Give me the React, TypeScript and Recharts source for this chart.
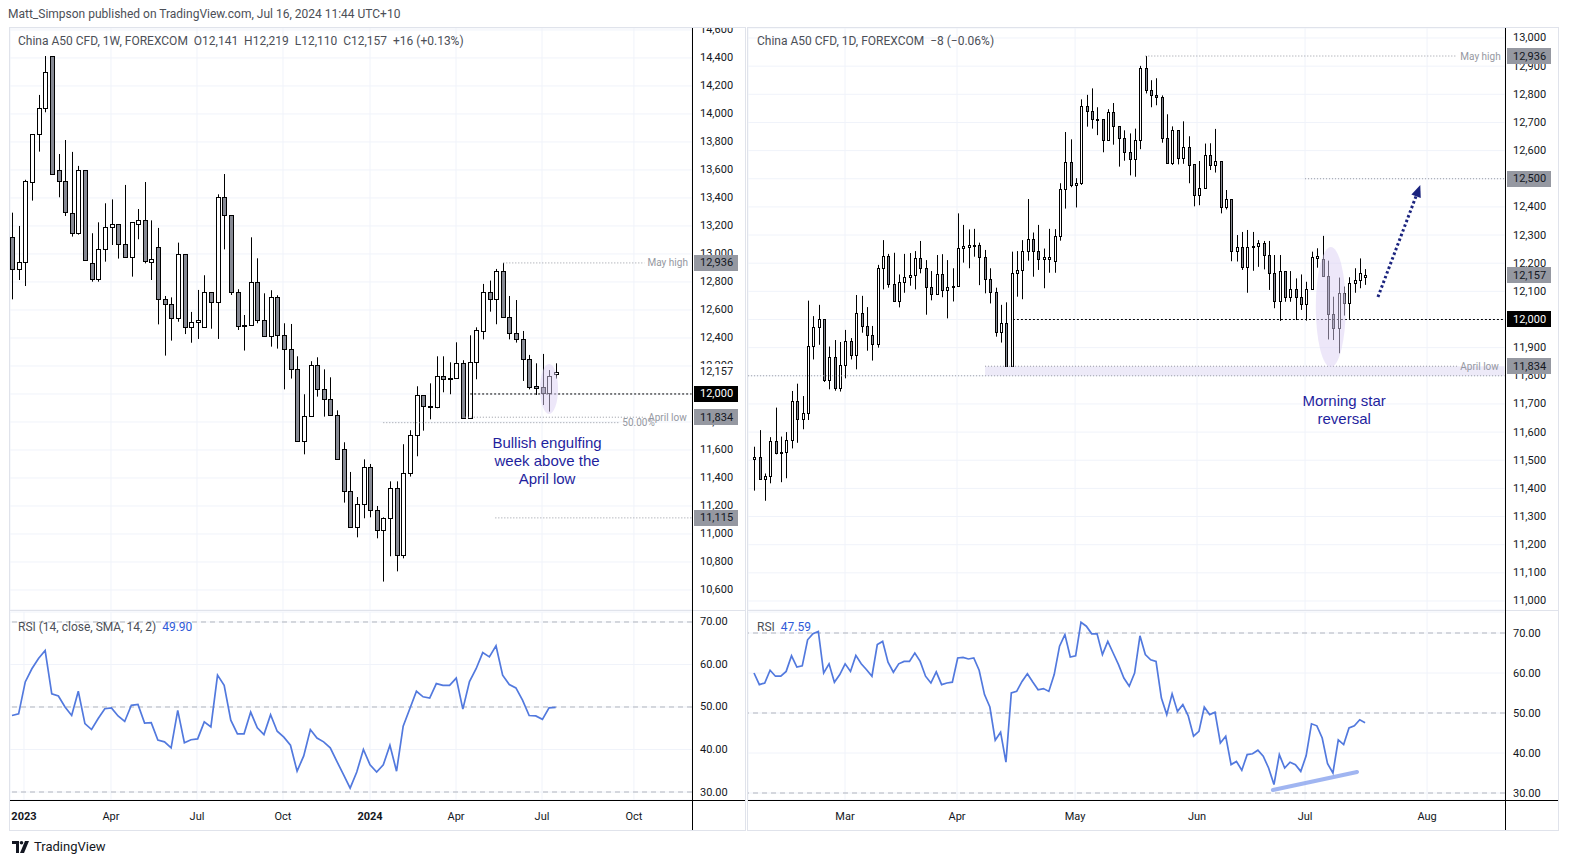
import React from 'react';
import {
  ComposedChart,
  LineChart,
  Bar,
  Line,
  XAxis,
  YAxis,
  CartesianGrid,
  ReferenceLine,
  ReferenceDot,
  ReferenceArea,
} from 'recharts';

const FONT = 'Roboto, "Liberation Sans", Arial, sans-serif';
const TEXT = '#131722';
const MUTED = '#9598a1';
const BEAR = '#868993';
const GRID = '#f0f3fa';
const FRAME = '#e0e3eb';
const RSI_BLUE = '#5279de';
const NOTE = '#1f1f9e';
const NAVY = '#1a237e';

// ---- weekly candles (1W), Dec 2022 -> Jul 2024 ----
const weekOpen = [
  13124, 12890, 12940, 13517, 13855, 14040, 14414, 13598, 13521, 13290,
  13148, 13598, 12933, 12819, 13033, 13195, 13212, 13069, 12981, 13212,
  13240, 12945, 13048, 12676, 12640, 12540, 12998, 12476, 12512, 12481,
  12726, 12655, 13405, 13276, 12726, 12491, 12491, 12798, 12526, 12412,
  12691, 12419, 12319, 12176, 11662, 11841, 12205, 12033, 11962, 11848,
  11605, 11305, 11048, 11212, 11476, 11171, 11029, 11112, 11326, 10848,
  11433, 11705, 11991, 11912, 11905, 12126, 12112, 12112, 12219, 11826,
  12231, 12450, 12726, 12676, 12881, 12548, 12433, 12390, 12248, 12057,
  12050, 12005, 12141,
];
const weekHigh = [
  13295, 13200, 13530, 13855, 14136, 14414, 14414, 13714, 13814, 13729,
  13629, 13598, 13148, 13226, 13362, 13390, 13212, 13493, 13226, 13321,
  13514, 13240, 13186, 12700, 12690, 13081, 12998, 12586, 12743, 12848,
  12726, 13426, 13571, 13276, 12748, 12564, 13119, 12969, 12719, 12741,
  12705, 12505, 12500, 12269, 11998, 12234, 12262, 12176, 12119, 11883,
  11655, 11443, 11264, 11533, 11500, 11200, 11119, 11376, 11376, 11641,
  11741, 12055, 11991, 12076, 12269, 12269, 12226, 12369, 12241, 12419,
  12476, 12786, 12810, 12893, 12936, 12700, 12671, 12450, 12279, 12219,
  12286, 12171, 12219,
];
const weekLow = [
  12676, 12814, 12771, 13381, 13731, 14012, 13569, 13405, 13271, 13124,
  13138, 12957, 12802, 12802, 12945, 13064, 12967, 12981, 12838, 13105,
  12933, 12814, 12497, 12274, 12381, 12516, 12428, 12366, 12393, 12474,
  12466, 12393, 13033, 12707, 12457, 12310, 12491, 12505, 12412, 12338,
  12324, 12033, 12110, 11662, 11569, 11841, 11981, 11838, 11848, 11533,
  11224, 11048, 10976, 11112, 11119, 10969, 10660, 10841, 10733, 10826,
  11410, 11555, 11738, 11819, 11898, 12012, 11998, 12112, 11826, 11826,
  12105, 12390, 12588, 12498, 12548, 12390, 12367, 12093, 12033, 11993,
  11921, 11874, 12110,
];
const weekClose = [
  12890, 12940, 13521, 13855, 14040, 14298, 13569, 13521, 13302, 13148,
  13598, 12957, 12819, 13033, 13195, 13212, 13069, 12981, 13226, 13240,
  12950, 12962, 12676, 12640, 12540, 12998, 12476, 12512, 12526, 12726,
  12655, 13405, 13276, 12726, 12486, 12495, 12798, 12526, 12412, 12691,
  12419, 12319, 12176, 11662, 11841, 12205, 12033, 11962, 11848, 11533,
  11305, 11048, 11212, 11476, 11171, 11029, 11112, 11326, 10848, 11433,
  11705, 11991, 11912, 11905, 12126, 12105, 12115, 12219, 11826, 12231,
  12457, 12726, 12676, 12881, 12548, 12433, 12390, 12248, 12052, 12040,
  12010, 12129, 12157,
];
const weekRsi = [
  48, 48.4, 55.9, 59, 61.4, 63.3, 53.1, 52.6, 50, 48,
  53.7, 46.1, 44.7, 47.3, 49.6, 49.8, 47.9, 46.6, 50.4, 50.6,
  46.2, 46.3, 42.2, 41.8, 40.4, 49.2, 41.6, 42.3, 42.5, 46.5,
  45.3, 57.5, 55.1, 46.9, 43.7, 43.7, 48.8, 45.1, 43.5, 48.2,
  44.3, 42.9, 41, 34.9, 38.5, 44.7, 42.7, 41.8, 40.4, 37.2,
  34.1, 30.9, 34.7, 40, 36.4, 34.7, 36.4, 41, 34.9, 45.5,
  49.6, 53.7, 52.4, 52.1, 55.5, 55.1, 55.1, 56.8, 49.5, 56,
  59, 62.8, 61.8, 64.4, 57.5, 55.3, 54.5, 51.6, 48, 47.9,
  47.1, 49.8, 49.9,
];
const weekTickPos = [1.81, 14.93, 27.9, 40.87, 54, 66.97, 79.94, 93.8];
const weekTickLabels = ['2023', 'Apr', 'Jul', 'Oct', '2024', 'Apr', 'Jul', 'Oct'];
const weekPriceTicks = [
  10600, 10800, 11000, 11200, 11400, 11600, 11800, 12000, 12200, 12400,
  12600, 12800, 13000, 13200, 13400, 13600, 13800, 14000, 14200, 14400, 14600,
];

// ---- daily candles (1D), Feb -> Jul 2024 ----
const dayOpen = [
  11503, 11512, 11432, 11444, 11568, 11527, 11528, 11572, 11711, 11645,
  11667, 11906, 11973, 12001, 11785, 11867, 11756, 11838, 11924, 11873,
  12022, 11977, 11944, 11912, 12182, 12224, 12125, 12064, 12132, 12150,
  12157, 12217, 12182, 12117, 12089, 12160, 12105, 12118, 12118, 12253,
  12258, 12260, 12264, 12223, 12143, 12099, 11957, 11989, 11835, 12164,
  12176, 12243, 12285, 12243, 12214, 12214, 12209, 12297, 12462, 12558,
  12477, 12484, 12757, 12740, 12711, 12711, 12636, 12736, 12686, 12644,
  12594, 12569, 12636, 12892, 12814, 12796, 12789, 12644, 12555, 12672,
  12573, 12614, 12552, 12441, 12466, 12583, 12548, 12562, 12398, 12427,
  12242, 12256, 12188, 12256, 12262, 12270, 12229, 12166, 12066, 12172,
  12081, 12107, 12081, 12054, 12107, 12220, 12216, 12154, 12018, 11969,
  12093, 12060, 12128, 12140, 12150,
];
const dayHigh = [
  11548, 11607, 11453, 11582, 11687, 11584, 11600, 11746, 11772, 11728,
  12067, 12012, 12052, 12001, 11904, 11927, 11920, 11963, 11934, 12087,
  12084, 12044, 11977, 12194, 12282, 12233, 12237, 12160, 12233, 12236,
  12243, 12279, 12211, 12172, 12229, 12232, 12211, 12182, 12377, 12336,
  12320, 12322, 12273, 12247, 12182, 12113, 12052, 12061, 12241, 12243,
  12282, 12428, 12309, 12336, 12252, 12322, 12321, 12484, 12666, 12640,
  12502, 12782, 12798, 12821, 12754, 12711, 12747, 12769, 12686, 12672,
  12661, 12678, 12901, 12936, 12850, 12857, 12796, 12729, 12686, 12672,
  12704, 12651, 12552, 12563, 12625, 12626, 12677, 12562, 12460, 12427,
  12300, 12311, 12318, 12311, 12282, 12279, 12279, 12229, 12229, 12172,
  12172, 12146, 12160, 12134, 12241, 12253, 12297, 12209, 12081, 12149,
  12117, 12150, 12182, 12217, 12179,
];
const dayLow = [
  11392, 11432, 11356, 11418, 11521, 11422, 11436, 11542, 11562, 11610,
  11643, 11858, 11910, 11778, 11752, 11747, 11744, 11791, 11858, 11823,
  11953, 11889, 11854, 11900, 12107, 12113, 12064, 12043, 12095, 12120,
  12107, 12164, 12017, 12068, 12087, 12079, 12004, 12064, 12118, 12202,
  12182, 12223, 12122, 12093, 12057, 11939, 11918, 11835, 11835, 12081,
  12072, 12209, 12152, 12176, 12111, 12166, 12166, 12280, 12394, 12470,
  12398, 12478, 12685, 12678, 12655, 12594, 12636, 12621, 12543, 12564,
  12512, 12507, 12605, 12803, 12754, 12761, 12628, 12555, 12549, 12551,
  12553, 12484, 12402, 12406, 12466, 12531, 12522, 12377, 12391, 12207,
  12206, 12176, 12095, 12173, 12187, 12178, 12105, 12040, 11995, 12063,
  12063, 11998, 12034, 11996, 12107, 12184, 12154, 11929, 11927, 11880,
  12014, 12002, 12095, 12111, 12123,
];
const dayClose = [
  11512, 11432, 11444, 11568, 11527, 11530, 11572, 11711, 11645, 11667,
  11906, 11973, 12001, 11785, 11867, 11756, 11838, 11924, 11873, 12022,
  11977, 11944, 11912, 12182, 12224, 12125, 12064, 12132, 12150, 12157,
  12217, 12182, 12117, 12089, 12160, 12105, 12114, 12120, 12253, 12261,
  12263, 12265, 12223, 12143, 12099, 11957, 11989, 11835, 12164, 12176,
  12243, 12285, 12243, 12214, 12222, 12222, 12297, 12462, 12558, 12477,
  12484, 12757, 12740, 12711, 12713, 12636, 12736, 12686, 12644, 12594,
  12569, 12636, 12892, 12814, 12796, 12789, 12644, 12555, 12672, 12573,
  12614, 12549, 12441, 12466, 12583, 12548, 12562, 12398, 12427, 12242,
  12256, 12188, 12256, 12262, 12270, 12229, 12166, 12066, 12172, 12081,
  12107, 12081, 12054, 12107, 12223, 12226, 12154, 12018, 11969, 12093,
  12060, 12128, 12140, 12165, 12157,
];
const dayRsi = [
  60, 57.1, 57.5, 60.7, 59.2, 59.2, 60.4, 64.3, 61.5, 61.8,
  68.3, 69.8, 70.4, 60, 62.3, 57.7, 59.6, 62.3, 60.4, 64.4,
  62.3, 60.8, 59.2, 67.1, 67.9, 62.7, 60.2, 62.3, 62.9, 62.9,
  65, 62.9, 59.2, 57.5, 60.3, 57.1, 57.5, 57.7, 63.75, 63.9,
  63.5, 63.75, 60.7, 54.6, 51.5, 43.2, 45.2, 37.7, 55, 55.4,
  57.9, 59.8, 57.75, 55.8, 56.1, 55.4, 59.6, 66.7, 69.6, 64,
  64.3, 72.7, 71.7, 69.8, 69.8, 64.6, 67.9, 65, 62.1, 58.75,
  56.7, 60, 69.3, 64.6, 63.3, 62.9, 53.75, 49.6, 54.8, 50.4,
  52.1, 49.3, 44.2, 45.4, 51.5, 49.6, 50.2, 42.5, 44.2, 37.1,
  37.9, 35.7, 39.6, 39.8, 40.7, 39.2, 36.25, 32.1, 39.6, 36.25,
  37.7, 37.1, 35.4, 39.3, 47.3, 46.8, 43.75, 37.3, 35, 43.3,
  42.1, 46.25, 46.8, 48.3, 47.59,
];
const dayTickPos = [16.98, 37.87, 59.9, 82.65, 102.8, 125.56];
const dayTickLabels = ['Mar', 'Apr', 'May', 'Jun', 'Jul', 'Aug'];
const dayPriceTicks = [
  11000, 11100, 11200, 11300, 11400, 11500, 11600, 11700, 11800, 11900, 12000,
  12100, 12200, 12300, 12400, 12500, 12600, 12700, 12800, 12900, 13000,
];
const rsiTicks = [30, 40, 50, 60, 70];

const weekRows = weekOpen.map((o, i) => ({
  i,
  o,
  h: weekHigh[i],
  l: weekLow[i],
  c: weekClose[i],
  range: [weekLow[i], weekHigh[i]],
}));
const dayRows = dayOpen.map((o, i) => ({
  i,
  o,
  h: dayHigh[i],
  l: dayLow[i],
  c: dayClose[i],
  range: [dayLow[i], dayHigh[i]],
}));
const weekRsiRows = weekRsi.map((v, i) => ({ i, v }));
const dayRsiRows = dayRsi.map((v, i) => ({ i, v }));

const W_X: [number, number] = [-0.3, 102.56];
const D_X: [number, number] = [-1.12, 140.1];
const W_Y: [number, number] = [10457, 14614];
const D_Y: [number, number] = [10968, 13035.5];

const fmt = (v: number) => v.toLocaleString('en-US');

// candle drawn inside the [low, high] bar that recharts positions for us
const candleShape = (bw: number) => (p: any) => {
  const d = p.payload;
  if (!d || p.x == null || p.height == null) return <g />;
  const top = Math.min(p.y, p.y + p.height);
  const full = Math.abs(p.height);
  const k = d.h > d.l ? full / (d.h - d.l) : 0;
  const at = (v: number) => top + (d.h - v) * k;
  const cx = Math.round(p.x + p.width / 2);
  const y1 = Math.round(at(Math.max(d.o, d.c))) + 0.5;
  let y2 = Math.round(at(Math.min(d.o, d.c))) + 0.5;
  if (y2 - y1 < 1) y2 = y1 + 1;
  return (
    <g>
      <line x1={cx + 0.5} x2={cx + 0.5} y1={top} y2={top + full} stroke="#000" />
      <rect
        x={cx - bw / 2 + 0.5}
        y={y1}
        width={bw}
        height={y2 - y1}
        fill={d.c >= d.o ? '#fff' : BEAR}
        stroke="#000"
      />
    </g>
  );
};

const badge = (text: string, bg: string, fg: string) => (p: any) => {
  const vb = p.viewBox || {};
  const x = vb.x + vb.width + 2;
  const y = vb.y + (vb.height || 0) / 2;
  return (
    <g>
      <rect x={x} y={Math.round(y) - 8} width={44} height={16} fill={bg} />
      <text x={x + 6} y={y} dominantBaseline="central" fontSize={11} fontFamily={FONT} fill={fg}>
        {text}
      </text>
    </g>
  );
};

const endTag = (text: string) => (p: any) => {
  const vb = p.viewBox || {};
  return (
    <text
      x={vb.x + vb.width + 3}
      y={vb.y}
      dominantBaseline="central"
      fontSize={10}
      fontFamily={FONT}
      fill={MUTED}
    >
      {text}
    </text>
  );
};

const priceTick = (p: any) => (
  <text x={p.x + 6} y={p.y} dominantBaseline="central" fontSize={11} fontFamily={FONT} fill={TEXT}>
    {fmt(p.payload.value)}
  </text>
);

const rsiTick = (p: any) => (
  <text x={p.x + 6} y={p.y} dominantBaseline="central" fontSize={11} fontFamily={FONT} fill={TEXT}>
    {Number(p.payload.value).toFixed(2)}
  </text>
);

const timeTick = (pos: number[], labels: string[]) => (p: any) => {
  const label = labels[pos.indexOf(p.payload.value)] ?? '';
  return (
    <text
      x={p.x}
      y={p.y + 14}
      textAnchor="middle"
      dominantBaseline="central"
      fontSize={11}
      fontFamily={FONT}
      fontWeight={/^\d{4}$/.test(label) ? 700 : 400}
      fill={TEXT}
    >
      {label}
    </text>
  );
};

const noteShape = (lines: string[]) => (p: any) => (
  <text x={p.cx} y={p.cy} textAnchor="middle" fontSize={15} fontFamily='"Liberation Sans", Arial, sans-serif' fill={NOTE}>
    {lines.map((s, k) => (
      <tspan key={k} x={p.cx} dy={k === 0 ? 5 : 18}>
        {s}
      </tspan>
    ))}
  </text>
);

const ellipseShape = (rx: number, ry: number) => (p: any) => (
  <ellipse cx={p.cx} cy={p.cy} rx={rx} ry={ry} fill="#dccff4" fillOpacity={0.5} />
);

const arrowShape = (p: any) => {
  const { x1, y1, x2, y2 } = p;
  const a = Math.atan2(y2 - y1, x2 - x1);
  const L = 12;
  const W = 5;
  const bx = x2 - L * Math.cos(a);
  const by = y2 - L * Math.sin(a);
  const pts = [
    [x2, y2],
    [bx + W * Math.sin(a), by - W * Math.cos(a)],
    [bx - W * Math.sin(a), by + W * Math.cos(a)],
  ]
    .map(q => q.join(','))
    .join(' ');
  return (
    <g>
      <line x1={x1} y1={y1} x2={bx} y2={by} stroke={NAVY} strokeWidth={3} strokeDasharray="2.5 2.5" />
      <polygon points={pts} fill={NAVY} />
    </g>
  );
};

const dotted = { stroke: MUTED, strokeDasharray: '1 2', strokeWidth: 1 };
const blackDotted = { stroke: '#000', strokeDasharray: '2 2', strokeWidth: 1 };

// price-scale labels sit in their own layer so they cover the axis ticks, like TradingView
function BadgeLayer({
  width,
  xDomain,
  yDomain,
  children,
}: {
  width: number;
  xDomain: [number, number];
  yDomain: [number, number];
  children: React.ReactNode;
}) {
  return (
    <ComposedChart width={width} height={582} data={[{ i: 0 }]} margin={{ top: 0, right: 0, bottom: 0, left: 0 }}>
      <XAxis type="number" dataKey="i" domain={xDomain} hide allowDataOverflow />
      <YAxis
        orientation="right"
        type="number"
        domain={yDomain}
        width={53}
        tick={false}
        axisLine={false}
        tickLine={false}
        allowDataOverflow
      />
      {children}
    </ComposedChart>
  );
}

function WeeklyPrice() {
  return (
    <ComposedChart width={735} height={582} data={weekRows} margin={{ top: 0, right: 0, bottom: 0, left: 0 }}>
      <CartesianGrid stroke={GRID} />
      <XAxis type="number" dataKey="i" domain={W_X} ticks={weekTickPos} hide allowDataOverflow />
      <YAxis
        orientation="right"
        type="number"
        domain={W_Y}
        ticks={weekPriceTicks}
        interval={0}
        width={53}
        axisLine={false}
        tickLine={false}
        tickSize={0}
        allowDataOverflow
        tick={priceTick}
      />
      <ReferenceDot x={81} y={12036} r={1} shape={ellipseShape(9, 25)} />
      <ReferenceLine segment={[{ x: 74.1, y: 12936 }, { x: 95.4, y: 12936 }]} {...dotted} label={endTag('May high')} />
      <ReferenceLine segment={[{ x: 56, y: 11795 }, { x: 91.6, y: 11795 }]} {...dotted} label={endTag('50.00%')} />
      <ReferenceLine segment={[{ x: 68.3, y: 11834 }, { x: 95.5, y: 11834 }]} {...dotted} label={endTag('April low')} />
      <ReferenceLine segment={[{ x: 72.9, y: 11115 }, { x: 102.5, y: 11115 }]} {...dotted} />
      <ReferenceLine segment={[{ x: 69.1, y: 12000 }, { x: 102.5, y: 12000 }]} {...blackDotted} />
      <Bar dataKey="range" barSize={5} isAnimationActive={false} shape={candleShape(4)} />
      <ReferenceDot
        x={80.7}
        y={11650}
        r={1}
        shape={noteShape(['Bullish engulfing', 'week above the', 'April low'])}
      />
    </ComposedChart>
  );
}

function WeeklyBadges() {
  return (
    <BadgeLayer width={735} xDomain={W_X} yDomain={W_Y}>
      <ReferenceLine y={12936} stroke="none" label={badge('12,936', '#9598a1', TEXT)} />
      <ReferenceLine y={12157} stroke="none" label={badge('12,157', '#ffffff', TEXT)} />
      <ReferenceLine y={12000} stroke="none" label={badge('12,000', '#000000', '#ffffff')} />
      <ReferenceLine y={11834} stroke="none" label={badge('11,834', '#9598a1', TEXT)} />
      <ReferenceLine y={11115} stroke="none" label={badge('11,115', '#9598a1', TEXT)} />
    </BadgeLayer>
  );
}

function WeeklyRsi() {
  return (
    <LineChart width={735} height={220} data={weekRsiRows} margin={{ top: 2, right: 0, bottom: 0, left: 0 }}>
      <CartesianGrid stroke={GRID} />
      <XAxis
        type="number"
        dataKey="i"
        domain={W_X}
        ticks={weekTickPos}
        interval={0}
        height={30}
        axisLine={false}
        tickLine={false}
        tickSize={0}
        allowDataOverflow
        tick={timeTick(weekTickPos, weekTickLabels)}
      />
      <YAxis
        orientation="right"
        type="number"
        domain={[28.12, 72.35]}
        ticks={rsiTicks}
        interval={0}
        width={53}
        axisLine={false}
        tickLine={false}
        tickSize={0}
        allowDataOverflow
        tick={rsiTick}
      />
      <ReferenceLine y={70} stroke="#b2b5be" strokeDasharray="5 4" />
      <ReferenceLine y={50} stroke="#b2b5be" strokeDasharray="5 4" />
      <ReferenceLine y={30} stroke="#b2b5be" strokeDasharray="5 4" />
      <Line dataKey="v" type="linear" dot={false} stroke={RSI_BLUE} strokeWidth={1.7} isAnimationActive={false} />
    </LineChart>
  );
}

function DailyPrice() {
  return (
    <ComposedChart width={810} height={582} data={dayRows} margin={{ top: 0, right: 0, bottom: 0, left: 0 }}>
      <CartesianGrid stroke={GRID} />
      <XAxis type="number" dataKey="i" domain={D_X} ticks={dayTickPos} hide allowDataOverflow />
      <YAxis
        orientation="right"
        type="number"
        domain={D_Y}
        ticks={dayPriceTicks}
        interval={0}
        width={53}
        axisLine={false}
        tickLine={false}
        tickSize={0}
        allowDataOverflow
        tick={priceTick}
      />
      <ReferenceArea x1={43.1} x2={140} y1={11800} y2={11834} fill="#e6e1f5" fillOpacity={0.7} stroke="none" />
      <ReferenceDot x={107.6} y={12044} r={1} shape={ellipseShape(15, 60)} />
      <ReferenceLine segment={[{ x: 73, y: 12936 }, { x: 131.2, y: 12936 }]} {...dotted} label={endTag('May high')} />
      <ReferenceLine segment={[{ x: 102.8, y: 12500 }, { x: 140, y: 12500 }]} {...dotted} />
      <ReferenceLine segment={[{ x: 43.1, y: 11834 }, { x: 131.2, y: 11834 }]} {...dotted} label={endTag('April low')} />
      <ReferenceLine segment={[{ x: -1.1, y: 11800 }, { x: 140, y: 11800 }]} {...dotted} />
      <ReferenceLine segment={[{ x: 48.3, y: 12000 }, { x: 140, y: 12000 }]} {...blackDotted} />
      <Bar dataKey="range" barSize={4} isAnimationActive={false} shape={candleShape(2)} />
      <ReferenceLine segment={[{ x: 116.4, y: 12080 }, { x: 124.3, y: 12478 }]} shape={arrowShape} />
      <ReferenceDot x={110.1} y={11710} r={1} shape={noteShape(['Morning star', 'reversal'])} />
    </ComposedChart>
  );
}

function DailyBadges() {
  return (
    <BadgeLayer width={810} xDomain={D_X} yDomain={D_Y}>
      <ReferenceLine y={12936} stroke="none" label={badge('12,936', '#9598a1', TEXT)} />
      <ReferenceLine y={12500} stroke="none" label={badge('12,500', '#9598a1', TEXT)} />
      <ReferenceLine y={12157} stroke="none" label={badge('12,157', '#9598a1', TEXT)} />
      <ReferenceLine y={12000} stroke="none" label={badge('12,000', '#000000', '#ffffff')} />
      <ReferenceLine y={11834} stroke="none" label={badge('11,834', '#9598a1', TEXT)} />
    </BadgeLayer>
  );
}

function DailyRsi() {
  return (
    <LineChart width={810} height={220} data={dayRsiRows} margin={{ top: 2, right: 0, bottom: 0, left: 0 }}>
      <CartesianGrid stroke={GRID} />
      <XAxis
        type="number"
        dataKey="i"
        domain={D_X}
        ticks={dayTickPos}
        interval={0}
        height={30}
        axisLine={false}
        tickLine={false}
        tickSize={0}
        allowDataOverflow
        tick={timeTick(dayTickPos, dayTickLabels)}
      />
      <YAxis
        orientation="right"
        type="number"
        domain={[28.25, 75.25]}
        ticks={rsiTicks}
        interval={0}
        width={53}
        axisLine={false}
        tickLine={false}
        tickSize={0}
        allowDataOverflow
        tick={rsiTick}
      />
      <ReferenceLine y={70} stroke="#b2b5be" strokeDasharray="5 4" />
      <ReferenceLine y={50} stroke="#b2b5be" strokeDasharray="5 4" />
      <ReferenceLine y={30} stroke="#b2b5be" strokeDasharray="5 4" />
      <ReferenceLine
        segment={[{ x: 96.8, y: 30.75 }, { x: 112.5, y: 35.25 }]}
        stroke="#8fa8ee"
        strokeWidth={4}
        strokeLinecap="round"
        strokeOpacity={0.85}
      />
      <Line dataKey="v" type="linear" dot={false} stroke={RSI_BLUE} strokeWidth={1.7} isAnimationActive={false} />
    </LineChart>
  );
}

const abs = (left: number, top: number, extra: React.CSSProperties = {}): React.CSSProperties => ({
  position: 'absolute',
  left,
  top,
  ...extra,
});

const hdr: React.CSSProperties = { fontSize: 12, lineHeight: '14px', color: '#4c4f57', whiteSpace: 'pre' };

export default function App() {
  return (
    <div
      style={{
        position: 'absolute',
        left: 0,
        top: 0,
        width: 1569,
        height: 866,
        background: '#fff',
        overflow: 'hidden',
        fontFamily: FONT,
      }}
    >
      <div style={abs(8, 7, hdr)}>Matt_Simpson published on TradingView.com, Jul 16, 2024 11:44 UTC+10</div>

      {/* panel frames */}
      <div style={abs(9, 27, { width: 737, height: 804, border: `1px solid ${FRAME}`, boxSizing: 'border-box' })} />
      <div style={abs(747, 27, { width: 812, height: 804, border: `1px solid ${FRAME}`, boxSizing: 'border-box' })} />

      <div style={abs(10, 28)}>
        <WeeklyPrice />
      </div>
      <div style={abs(10, 28)}>
        <WeeklyBadges />
      </div>
      <div style={abs(10, 610)}>
        <WeeklyRsi />
      </div>
      <div style={abs(748, 28)}>
        <DailyPrice />
      </div>
      <div style={abs(748, 28)}>
        <DailyBadges />
      </div>
      <div style={abs(748, 610)}>
        <DailyRsi />
      </div>

      {/* pane separators and axis lines */}
      <div style={abs(10, 610, { width: 735, height: 1, background: FRAME })} />
      <div style={abs(748, 610, { width: 810, height: 1, background: FRAME })} />
      <div style={abs(10, 800, { width: 735, height: 1, background: '#000' })} />
      <div style={abs(748, 800, { width: 810, height: 1, background: '#000' })} />
      <div style={abs(692, 28, { width: 1, height: 802, background: '#000' })} />
      <div style={abs(1505, 28, { width: 1, height: 802, background: '#000' })} />

      {/* legends */}
      <div style={abs(18, 34, hdr)}>
        {'China A50 CFD, 1W, FOREXCOM  O12,141  H12,219  L12,110  C12,157  +16 (+0.13%)'}
      </div>
      <div style={abs(757, 34, hdr)}>{'China A50 CFD, 1D, FOREXCOM  \u22128 (\u22120.06%)'}</div>
      <div style={abs(18, 620, hdr)}>
        {'RSI (14, close, SMA, 14, 2)  '}
        <span style={{ color: '#2f5bd8' }}>49.90</span>
      </div>
      <div style={abs(757, 620, hdr)}>
        {'RSI  '}
        <span style={{ color: '#2f5bd8' }}>47.59</span>
      </div>

      {/* footer logo */}
      <div style={abs(12, 839, { display: 'flex', alignItems: 'center', gap: 4 })}>
        <svg width={18} height={12} viewBox="0 0 18 12">
          <path d="M0 0h7v12H4V3H0z" fill={TEXT} />
          <circle cx={9.5} cy={1.8} r={1.8} fill={TEXT} />
          <path d="M13 0h4l-5 12H8z" fill={TEXT} />
        </svg>
        <span style={{ fontSize: 13, color: TEXT }}>TradingView</span>
      </div>
    </div>
  );
}
